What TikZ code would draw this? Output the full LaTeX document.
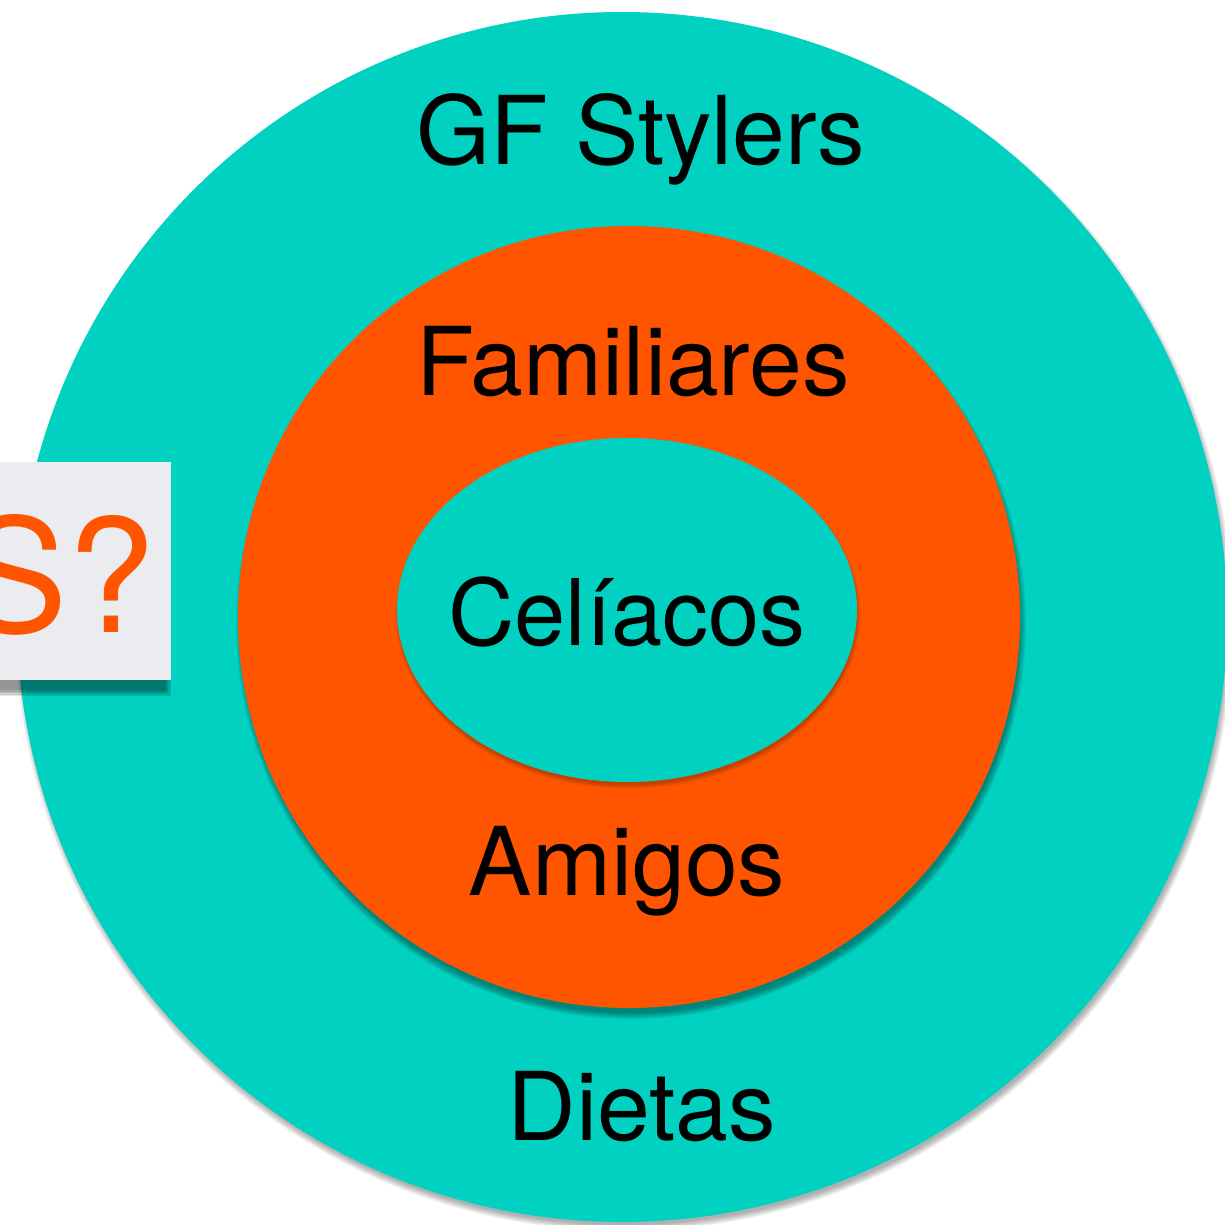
\documentclass[tikz,border=0pt]{standalone}
\usepackage{fontspec}
\setmainfont{TeX Gyre Heros}
\usetikzlibrary{shapes.geometric}
\definecolor{tealc}{RGB}{0,209,193}
\definecolor{orangec}{RGB}{255,85,0}
\definecolor{boxc}{RGB}{235,236,240}
\tikzset{
  disc/.style={circle, fill=#1, inner sep=0pt, draw=none},
  label/.style={font=\fontsize{95}{95}\selectfont, text=black, anchor=base, inner sep=0pt},
  shade/.style={fill=black, opacity=0.06, draw=none}
}
\begin{document}
\begin{tikzpicture}[x=1pt,y=-1pt]
\useasboundingbox (0,0) rectangle (1225,1225);
\clip (0,0) rectangle (1225,1225);
% outer shadow
\foreach \k in {0,1,2,3,4,5} {
  \fill[shade] (624,622) circle (603+\k*1.2);
}
\node[disc=tealc, minimum size=1210pt] (outer) at (622,617) {};
% middle shadow
\foreach \k in {0,1,2,3,4,5} {
  \fill[shade, opacity=0.07] (631,624) circle (389+\k*1.2);
}
\node[disc=orangec, minimum size=782pt] (mid) at (629,617) {};
% inner shadow
\foreach \k in {0,1,2,3} {
  \fill[shade, opacity=0.06] (628,614) ellipse ({229+\k*1.2} and {171+\k*1.2});
}
\node[ellipse, fill=tealc, inner sep=0pt, minimum width=460pt, minimum height=344pt] (inner) at (627,610) {};
% texts
\node[label] (gf) at (641,165) {GF Stylers};
\node[label] (fam) at (633,395) {Familiares};
\node[label, font=\fontsize{92}{92}\selectfont] (cel) at (627,645) {Celíacos};
\node[label] (ami) at (627,895) {Amigos};
\node[label] (die) at (642,1140) {Dietas};
% box shadow
\foreach \k in {0,1,2,3,4} {
  \fill[shade, opacity=0.1] (-5,{468-\k}) rectangle ({166+\k*1.2},{690+\k*1.5});
}
\node[fill=boxc, inner sep=0pt, anchor=north west, minimum width=171pt, minimum height=218pt] (box) at (0,462) {};
\node[anchor=base west, text=orangec, font=\fontsize{158}{158}\selectfont, inner sep=0pt] (q) at (-38,632) {S?};
\end{tikzpicture}
\end{document}
